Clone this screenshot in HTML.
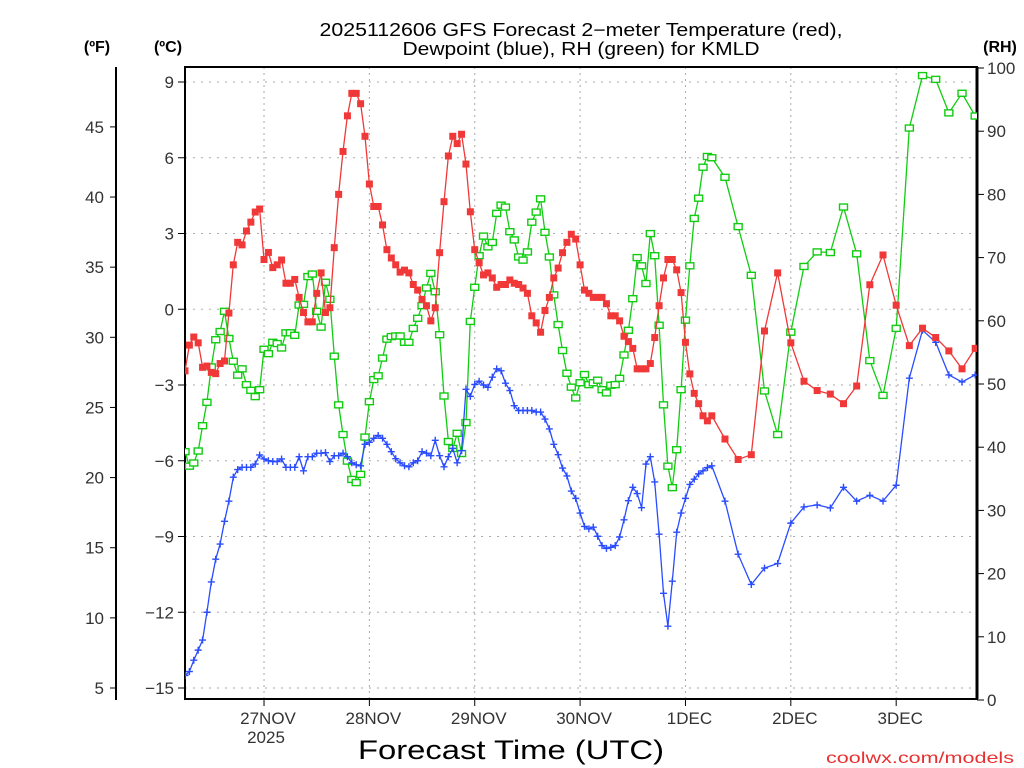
<!DOCTYPE html>
<html><head><meta charset="utf-8"><style>
html,body{margin:0;padding:0;background:#fff;}
svg{display:block;}
text{font-family:"Liberation Sans",sans-serif;}
</style></head><body>
<svg id="chart" width="1024" height="768" viewBox="0 0 1024 768" xmlns="http://www.w3.org/2000/svg">
<rect x="0" y="0" width="1024" height="768" fill="#fff"/>
<g>
<text x="581" y="36" text-anchor="middle" font-size="18" fill="#000" textLength="523" lengthAdjust="spacingAndGlyphs">2025112606 GFS Forecast 2−meter Temperature (red),</text>
<text x="581" y="55" text-anchor="middle" font-size="18" fill="#000" textLength="357" lengthAdjust="spacingAndGlyphs">Dewpoint (blue), RH (green) for KMLD</text>
</g>
<text x="97" y="52" text-anchor="middle" font-size="16" font-weight="bold">(ºF)</text>
<text x="168" y="52" text-anchor="middle" font-size="16" font-weight="bold">(ºC)</text>
<text x="1000" y="52" text-anchor="middle" font-size="16" font-weight="bold">(RH)</text>
<g id="grid"></g>
<g id="axes"></g>
<g id="series"></g>
<text x="511" y="759" text-anchor="middle" font-size="27" fill="#000" textLength="306" lengthAdjust="spacingAndGlyphs">Forecast Time (UTC)</text>
<text x="1014" y="763" text-anchor="end" font-size="16" fill="#e83030" textLength="188" lengthAdjust="spacingAndGlyphs">coolwx.com/models</text>
</svg>
<script>
const hours=[0,1,2,3,4,5,6,7,8,9,10,11,12,13,14,15,16,17,18,19,20,21,22,23,24,25,26,27,28,29,30,31,32,33,34,35,36,37,38,39,40,41,42,43,44,45,46,47,48,49,50,51,52,53,54,55,56,57,58,59,60,61,62,63,64,65,66,67,68,69,70,71,72,73,74,75,76,77,78,79,80,81,82,83,84,85,86,87,88,89,90,91,92,93,94,95,96,97,98,99,100,101,102,103,104,105,106,107,108,109,110,111,112,113,114,115,116,117,118,119,120,123,126,129,132,135,138,141,144,147,150,153,156,159,162,165,168,171,174,177,180];
const tempC=[-2.44,-1.42,-1.1,-1.33,-2.3,-2.25,-2.5,-2.55,-2.15,-2.05,
-0.15,1.76,2.65,2.55,3.1,3.45,3.85,3.97,1.97,2.25,
1.65,1.76,1.95,1.03,1.03,1.18,0.47,-0.13,-0.5,-0.5,
0.63,1.44,-0.13,0.06,2.44,4.55,6.25,7.66,8.55,8.55,
8.14,6.85,4.96,4.07,4.07,3.34,2.36,2.03,1.76,1.47,
1.55,1.44,0.98,0.76,0.39,0.14,-0.46,0.06,2.24,4.26,
6.07,6.85,6.56,6.93,5.75,3.86,2.36,1.84,1.36,1.44,
1.24,0.87,0.98,0.98,1.16,1.03,0.98,0.84,0.63,-0.26,
-0.54,-0.91,-0.05,0.47,1.24,1.63,2.24,2.65,2.97,2.78,
1.76,0.76,0.63,0.47,0.47,0.47,0.22,-0.26,-0.26,-0.46,
-1.07,-1.28,-1.55,-2.36,-2.36,-2.36,-2.15,-1.12,0.14,1.24,
1.97,1.97,1.56,0.66,-1.31,-2.56,-3.33,-3.74,-4.22,-4.42,
-4.22,
-5.14,-5.95,-5.76,-0.86,1.44,-1.33,-2.85,-3.22,-3.36,-3.74,-3.04,0.97,2.15,0.16,-1.44,-0.75,-1.12,-1.65,-2.36,-1.55];
const dewC=[-14.5,-14.35,-13.9,-13.5,-13.1,-12.0,-10.8,-9.9,-9.3,-8.4,
-7.6,-6.65,-6.35,-6.26,-6.26,-6.26,-6.13,-5.77,-5.93,-6.0,
-6.03,-6.03,-5.93,-6.26,-6.26,-6.26,-5.84,-6.4,-5.84,-5.84,
-5.7,-5.7,-5.68,-6.03,-5.8,-5.8,-5.7,-5.84,-6.08,-6.16,
-6.2,-5.35,-5.27,-5.11,-5.0,-5.11,-5.35,-5.64,-5.92,-6.08,
-6.2,-6.24,-6.08,-6.0,-5.64,-5.7,-5.8,-5.19,-5.8,-6.24,
-5.84,-5.51,-6.08,-5.6,-3.17,-3.45,-2.98,-2.85,-3.0,-3.09,
-2.69,-2.36,-2.44,-2.93,-3.22,-3.82,-4.01,-4.01,-4.01,-4.01,
-4.07,-4.07,-4.35,-4.74,-5.35,-5.76,-6.29,-6.6,-7.2,-7.49,
-8.07,-8.6,-8.7,-8.63,-8.99,-9.36,-9.47,-9.43,-9.36,-9.02,
-8.34,-7.58,-7.05,-7.3,-7.86,-6.13,-5.84,-6.84,-8.91,-11.25,
-12.55,-10.77,-8.83,-8.07,-7.49,-6.94,-6.73,-6.52,-6.4,-6.27,
-6.2,
-7.6,-9.7,-10.9,-10.25,-10.07,-8.47,-7.83,-7.75,-7.87,-7.05,-7.6,-7.37,-7.6,-6.97,-2.73,-0.83,-1.31,-2.6,-2.88,-2.6];
const rhPct=[39.3,37.0,37.5,39.4,43.4,47.1,52.7,57.0,58.3,61.5,
57.2,53.6,51.4,52.4,49.9,49.0,48.0,49.1,55.5,54.8,
56.6,56.4,55.7,58.1,58.1,57.7,62.5,62.6,67.0,67.4,
61.5,59.0,66.1,63.4,54.4,46.7,42.0,37.8,34.9,34.4,
35.7,41.6,47.2,50.7,51.3,54.1,57.1,57.5,57.6,57.6,
56.6,56.6,58.8,60.4,62.4,65.2,67.5,64.6,57.8,48.1,
40.9,39.8,42.2,39.0,43.9,59.9,65.3,70.3,73.4,71.7,
72.4,77.0,78.3,78.0,74.1,72.8,70.1,69.6,70.9,75.6,
77.2,79.3,74.0,70.1,64.1,59.4,55.3,51.7,49.5,47.8,
50.2,51.5,49.9,50.2,50.6,49.1,48.6,49.8,49.9,50.9,
54.6,58.5,63.5,70.0,68.7,65.9,73.8,70.3,59.3,46.7,
37.0,33.6,39.6,49.1,60.1,68.7,76.2,79.4,84.3,86.0,
85.8,
82.7,74.9,67.2,48.9,42.0,58.2,68.6,70.9,70.8,78.0,70.6,53.7,48.2,58.8,90.5,98.8,98.2,92.9,96.0,92.4];
const celsiusTicks=[9,6,3,0,-3,-6,-9,-12,-15];
const fahrenheitTicks=[5,10,15,20,25,30,35,40,45];
const rhTicks=[0,10,20,30,40,50,60,70,80,90,100];
const dayHours=[18,42,66,90,114,138,162];
const dayLabels=["27NOV","28NOV","29NOV","30NOV","1DEC","2DEC","3DEC"];

const L=185,R=977,T=67,B=699;
const x=h=>L+h*4.39;
const yC=c=>309.25-c*25.25;
const yRH=r=>700-r*6.32;
const NS="http://www.w3.org/2000/svg";
function mk(tag,parent,attrs){const e=document.createElementNS(NS,tag);for(const k in attrs)e.setAttribute(k,attrs[k]);parent.appendChild(e);return e;}
const grid=document.getElementById('grid'),axes=document.getElementById('axes'),ser=document.getElementById('series');

celsiusTicks.forEach(c=>{
  const g=mk('line',grid,{x1:L,x2:R,y1:yC(c),y2:yC(c),stroke:'#aaa','stroke-width':1,'stroke-dasharray':'2,6'});
  
  
  mk('line',axes,{x1:L-7,x2:L,y1:yC(c),y2:yC(c),stroke:'#000','stroke-width':1});
  const t=mk('text',axes,{x:L-11,y:yC(c)+6,'text-anchor':'end','font-size':17,fill:'#333'});
  t.textContent=(c<0?'−':'')+Math.abs(c);
  
  
});
dayHours.forEach((h,i)=>{
  const g=mk('line',grid,{x1:x(h),x2:x(h),y1:T,y2:B,stroke:'#aaa','stroke-width':1,'stroke-dasharray':'2,4'});
  
  
  mk('line',axes,{x1:x(h),x2:x(h),y1:B,y2:B+7,stroke:'#000','stroke-width':1});
  const t=mk('text',axes,{x:x(h)+4,y:724,'text-anchor':'middle','font-size':17,fill:'#333'});
  t.textContent=dayLabels[i];
  
  
});
const yr=mk('text',axes,{x:x(18)+2,y:743,'text-anchor':'middle','font-size':17,fill:'#333'});
yr.textContent='2025';



const fl=mk('line',axes,{x1:116,x2:116,y1:T,y2:B+1,stroke:'#000','stroke-width':2});


fahrenheitTicks.forEach(f=>{
  const yy=yC((f-32)*5/9);
  mk('line',axes,{x1:110,x2:116,y1:yy,y2:yy,stroke:'#000','stroke-width':1});
  const t=mk('text',axes,{x:104,y:yy+6,'text-anchor':'end','font-size':17,fill:'#333'});
  t.textContent=f;
  
  
});
rhTicks.forEach(r=>{
  mk('line',axes,{x1:R,x2:R+7,y1:yRH(r),y2:yRH(r),stroke:'#000','stroke-width':1});
  const t=mk('text',axes,{x:987,y:yRH(r)+6,'text-anchor':'start','font-size':17,fill:'#333'});
  t.textContent=r;
  
  
});
const frame=mk('rect',axes,{x:L,y:T,width:R-L,height:B-T,fill:'none',stroke:'#000','stroke-width':2});


mk('line',axes,{x1:R,x2:R,y1:T,y2:B,stroke:'#000','stroke-width':3});

mk('clipPath',document.getElementById('chart'),{id:'pc'}).appendChild(Object.assign(document.createElementNS(NS,'rect'),{}));
const cr=document.querySelector('#pc rect');cr.setAttribute('x',L);cr.setAttribute('y',T);cr.setAttribute('width',R-L);cr.setAttribute('height',B-T);
ser.setAttribute('clip-path','url(#pc)');

function drawSeries(vals,yf,color,kind,name){
  const g=mk('g',ser,{});
  
  
  const n=Math.min(hours.length,vals.length);
  let d='';
  for(let i=0;i<n;i++)d+=(i?'L':'M')+x(hours[i]).toFixed(1)+' '+yf(vals[i]).toFixed(1);
  const p=mk('path',g,{d:d,fill:'none',stroke:color,'stroke-width':1.3});
  
  
  for(let i=0;i<n;i++){
    const cx=x(hours[i]),cy=yf(vals[i]);
    let m;
    if(kind==='fill'){m=mk('rect',g,{x:cx-3.5,y:cy-3.5,width:7,height:7,fill:color});}
    else if(kind==='hollow'){m=mk('rect',g,{x:cx-4,y:cy-3,width:8,height:6,fill:'#fff',stroke:color,'stroke-width':1.4});}
    else{m=mk('path',g,{d:`M${cx-3.5} ${cy}H${cx+3.5}M${cx} ${cy-3.5}V${cy+3.5}`,stroke:color,'stroke-width':1.4,fill:'none'});}
    
    
  }
}
drawSeries(rhPct,yRH,'#11cc11','hollow','rh');
drawSeries(dewC,yC,'#2a4cff','plus','dewpoint');
drawSeries(tempC,yC,'#f03838','fill','temperature');
</script>
</body></html>
